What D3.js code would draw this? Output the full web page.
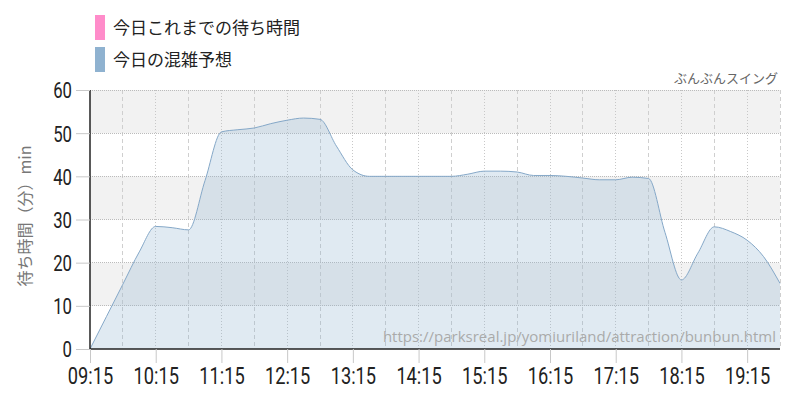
<!DOCTYPE html>
<html><head><meta charset="utf-8">
<script src="https://cdn.jsdelivr.net/npm/d3@7/dist/d3.min.js"></script>
<style>
body{margin:0;background:#fff;}
svg{display:block;}
</style></head>
<body>
<svg id="c" width="800" height="400"></svg>
<script>
const times = ["09:15","09:30","09:45","10:00","10:15","10:30","10:45","11:00","11:15","11:30","11:45","12:00","12:15","12:30","12:45","13:00","13:15","13:30","13:45","14:00","14:15","14:30","14:45","15:00","15:15","15:30","15:45","16:00","16:15","16:30","16:45","17:00","17:15","17:30","17:45","18:00","18:15","18:30","18:45","19:00","19:15","19:30","19:45"];
const forecast = [0,7.5,15,22.5,28.4,28.1,27.6,39,50.3,50.8,51.2,52.2,53,53.5,53.2,47,41.5,40,40,40,40,40,40,40.5,41.2,41.2,41,40.2,40.2,40,39.6,39.2,39.2,39.8,39.5,27,16,22.2,28.3,27.2,25.2,21.4,15.2];
const xTickLabels = ["09:15","10:15","11:15","12:15","13:15","14:15","15:15","16:15","17:15","18:15","19:15"];
const yTicks = [0,10,20,30,40,50,60];
const legendItems = [{label:"今日これまでの待ち時間", color:"#ff8cca"},{label:"今日の混雑予想", color:"#8fb2d0"}];
const attractionName = "ぶんぶんスイング";
const sourceUrl = "https://parksreal.jp/yomiuriland/attraction/bunbun.html";
const yTitle = "待ち時間（分）min";

const toMin = s => { const [h,m] = s.split(":").map(Number); return h*60+m; };
const svg = d3.select("#c");
const L=90, R=780, T=90, B=349;
const x = d3.scaleLinear().domain([toMin("09:15"), toMin("19:45")]).range([L,R]);
const y = d3.scaleLinear().domain([0,60]).range([B,T]);
const numFont = "Roboto,'Liberation Sans',sans-serif";
const SX = 0.76;

// bands
for (let i=0;i<yTicks.length-1;i++){
  const v0=yTicks[i], v1=yTicks[i+1];
  if (i%2===0) continue;
  svg.append("rect").attr("x",L).attr("width",R-L).attr("y",y(v1)).attr("height",y(v0)-y(v1)).attr("fill","#f2f2f2");
}
// vertical grid
const halfHours = d3.range(toMin("09:45"), toMin("19:45")+1, 30);
halfHours.forEach(m=>{
  const isHour = ((m - toMin("09:15")) % 60)===0;
  svg.append("line").attr("x1",x(m)).attr("x2",x(m)).attr("y1",T).attr("y2",B)
    .attr("stroke", isHour? "#c8c8c8":"#cfcfcf").attr("stroke-width",1)
    .attr("stroke-dasharray", isHour? "1,2":"4,3").attr("shape-rendering","crispEdges");
});
// horizontal grid
yTicks.forEach(v=>{
  if (v===0) return;
  svg.append("line").attr("x1",L).attr("x2",R).attr("y1",y(v)).attr("y2",y(v))
    .attr("stroke","#bbbbbb").attr("stroke-dasharray","1,1").attr("shape-rendering","crispEdges");
});

// area
const pts = times.map((t,i)=>[toMin(t), forecast[i]]);
const area = d3.area().x(d=>x(d[0])).y0(y(0)).y1(d=>y(d[1])).curve(d3.curveMonotoneX);
const line = d3.line().x(d=>x(d[0])).y(d=>y(d[1])).curve(d3.curveMonotoneX);
svg.append("path").attr("d",area(pts)).attr("fill","#8fb2d0").attr("fill-opacity",0.28);
svg.append("path").attr("d",line(pts)).attr("fill","none").attr("stroke","#85a8c8").attr("stroke-width",1);

// axes lines
svg.append("line").attr("x1",L).attr("x2",L).attr("y1",T).attr("y2",B).attr("stroke","#222").attr("stroke-width",1.5);
svg.append("line").attr("x1",L).attr("x2",R).attr("y1",B).attr("y2",B).attr("stroke","#222").attr("stroke-width",1.5);

// y ticks
const yAxis = svg.append("g").attr("transform",`translate(${L},0)`)
  .call(d3.axisLeft(y).tickValues(yTicks).tickSize(14).tickPadding(4));
yAxis.select(".domain").remove();
yAxis.selectAll(".tick line").attr("stroke","#c8c8c8");
yAxis.selectAll(".tick text").attr("font-family",numFont).attr("font-size",22).attr("fill","#222")
  .attr("dy","0.36em").attr("x",-18/SX).attr("transform",`scale(${SX},1)`);

// x ticks
const xAxis = svg.append("g").attr("transform",`translate(0,${B})`)
  .call(d3.axisBottom(x).tickValues(xTickLabels.map(toMin)).tickFormat((d,i)=>xTickLabels[i]).tickSize(14).tickPadding(4));
xAxis.select(".domain").remove();
xAxis.selectAll(".tick line").attr("stroke","#c8c8c8");
xAxis.selectAll(".tick text").attr("font-family",numFont).attr("font-size",24).attr("fill","#222")
  .attr("transform",`scale(${SX},1)`);

// y title
svg.append("text").attr("transform","translate(31,216) rotate(-90)").attr("text-anchor","middle")
  .attr("font-family","'Noto Sans CJK JP','Noto Sans',sans-serif").attr("font-size",16).attr("fill","#777").text(yTitle);

// attraction name
svg.append("text").attr("x",778).attr("y",83).attr("text-anchor","end")
  .attr("font-family","'Noto Sans CJK JP',sans-serif").attr("font-size",13).attr("fill","#666").text(attractionName);

// watermark
svg.append("text").attr("x",776).attr("y",342).attr("text-anchor","end")
  .attr("font-family","'Open Sans','Noto Sans',sans-serif").attr("font-size",15).attr("fill","#aaa").text(sourceUrl);

// legend
legendItems.forEach((d,i)=>{
  const ly = 15 + i*32;
  svg.append("rect").attr("x",95).attr("y",ly).attr("width",10).attr("height",25).attr("fill",d.color);
  svg.append("text").attr("x",113).attr("y",ly+19).attr("font-family","'Noto Sans CJK JP',sans-serif")
    .attr("font-size",17).attr("fill","#222").text(d.label);
});
</script>
</body></html>
